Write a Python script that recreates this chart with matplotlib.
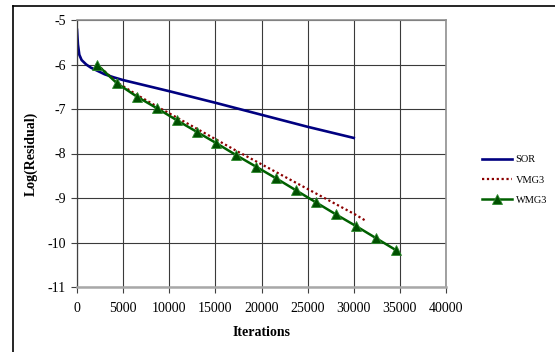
import matplotlib
matplotlib.use("Agg")
import matplotlib.pyplot as plt
from matplotlib.lines import Line2D

plt.rcParams['font.family'] = ['Liberation Serif', 'DejaVu Serif']

sor_x = [0, 100, 250, 500, 1000, 1500, 2000, 3000, 4000, 5000, 10000, 15000, 20000, 25000, 30000]
sor_y = [-5.22, -5.55, -5.78, -5.90, -6.00, -6.07, -6.12, -6.22, -6.29, -6.35, -6.60, -6.86, -7.13, -7.40, -7.65]

vmg_x = [2160, 4320, 6480, 8640, 10800, 12960, 15120, 17280, 19440, 21600, 23760, 25920, 28080, 30240, 31200]
vmg_y = [-6.00, -6.40, -6.68, -6.94, -7.19, -7.44, -7.69, -7.94, -8.18, -8.42, -8.66, -8.90, -9.14, -9.38, -9.50]

wmg_x = [2160, 4320, 6480, 8640, 10800, 12960, 15120, 17280, 19440, 21600, 23760, 25920, 28080, 30240, 32400, 34560]
wmg_y = [-6.00, -6.42, -6.72, -6.98, -7.25, -7.51, -7.77, -8.04, -8.30, -8.56, -8.83, -9.10, -9.37, -9.63, -9.90, -10.17]

x_ticks = [0, 5000, 10000, 15000, 20000, 25000, 30000, 35000, 40000]
y_ticks = [-11, -10, -9, -8, -7, -6, -5]

fig = plt.figure(figsize=(5.55, 3.52), dpi=100)
ax = fig.add_axes([77/555, 1-287/352, (446-77)/555, (287-20)/352])

ax.plot(sor_x, sor_y, color='#000080', lw=1.9, label='SOR')
ax.plot(vmg_x, vmg_y, color='#8B0000', lw=1.6, ls=(0, (1, 1.2)), label='VMG3')
ax.plot(wmg_x, wmg_y, color='#006000', lw=1.8, marker='^', ms=6.5,
        markerfacecolor='#005000', markeredgecolor='#2E8B2E', markeredgewidth=0.6, label='WMG3')

ax.set_xlim(0, 40000)
ax.set_ylim(-11, -5)
ax.set_xticks(x_ticks)
ax.set_yticks(y_ticks)
ax.set_xticklabels([str(v) for v in x_ticks])
ax.set_yticklabels([str(v) for v in y_ticks])
ax.grid(True, color='#3a3a3a', lw=0.8)
ax.set_axisbelow(True)

for s in ['top', 'right']:
    ax.spines[s].set_color('#909090')
    ax.spines[s].set_linewidth(1.2)
ax.spines['bottom'].set_color('#a8a8a8')
ax.spines['bottom'].set_linewidth(1.8)
ax.spines['left'].set_color('#404040')
ax.spines['left'].set_linewidth(0.9)

ax.tick_params(axis='both', direction='out', length=4, width=0.8, color='#404040', labelsize=10)
ax.tick_params(axis='y', pad=4)
ax.tick_params(axis='x', pad=7)

ax.set_xlabel('Iterations', fontsize=10, fontweight='bold', labelpad=8)
ax.set_ylabel('Log(Residual)', fontsize=10, fontweight='bold', labelpad=7)

ax.legend(loc='center left', bbox_to_anchor=(478/555, 1-180/352), frameon=False,
          fontsize=7.5, handlelength=2.9, handletextpad=0.3, labelspacing=1.05,
          borderaxespad=0, bbox_transform=fig.transFigure)

fig.add_artist(Line2D([13/555, 13/555], [0, 1-6/352], transform=fig.transFigure, color='black', lw=1.2))
fig.add_artist(Line2D([13/555, 1], [1-6/352, 1-6/352], transform=fig.transFigure, color='black', lw=1.2))

fig.savefig('out.png', dpi=100)
